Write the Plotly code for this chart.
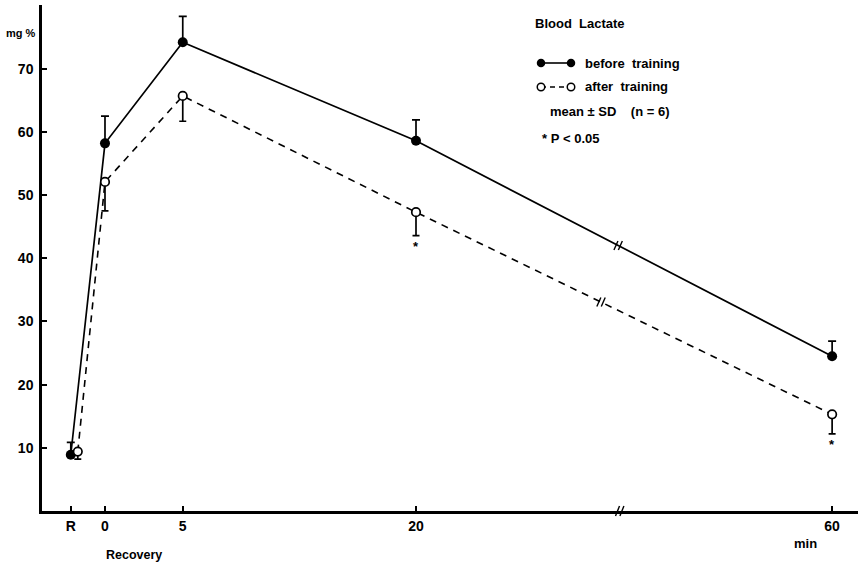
import plotly.graph_objects as go
import numpy as np

# ---------------- data ----------------
time_labels = ["R", "0", "5", "20", "60"]          # R = resting value, then minutes of recovery
time_min = [None, 0, 5, 20, 60]
before_mean = [8.9, 58.2, 74.2, 58.6, 24.5]        # before training, mg %
before_sd = [1.95, 4.3, 4.1, 3.3, 2.4]
after_mean = [9.4, 52.1, 65.7, 47.3, 15.3]         # after training, mg %
after_sd = [1.2, 4.6, 4.0, 3.7, 3.1]
significant = [False, False, False, True, True]    # * P < 0.05
y_ticks = [10, 20, 30, 40, 50, 60, 70]

# ---------------- layout helpers (broken time axis) ----------------
W, H = 858, 564
ML, MR, MT, MB = 42, 0, 5, 53
REST_POS = -2.2          # where the resting value sits, left of 0
COMPRESS = 0.669         # time axis compressed beyond 20 min (axis break)
BREAK_AXIS = 33.1        # break mark positions (display units)
BREAK_BEFORE = 33.0
BREAK_AFTER = 31.9
R_OFFSET = 0.45          # small horizontal offset of the open symbol at R


def disp(t):
    if t is None:
        return REST_POS
    return t if t <= 20 else 20 + (t - 20) * COMPRESS


xb = [disp(t) for t in time_min]
xa = [x + (R_OFFSET if t is None else 0) for x, t in zip(xb, time_min)]

X_RANGE = [-4.051, 48.424]
Y_RANGE = [0, 80.1]

FONT = "Liberation Sans"
BLACK = "#000000"
pw, ph = W - ML - MR, H - MT - MB


def pxp(px, py):
    """pixel position -> paper coordinates"""
    return (px - ML) / pw, (H - MB - py) / ph


fig = go.Figure()

# before training: filled circles, solid line, SD upwards
fig.add_trace(go.Scatter(
    x=xb, y=before_mean, mode="lines+markers", name="before training",
    line=dict(color=BLACK, width=1.7),
    marker=dict(size=10, color=BLACK),
    error_y=dict(type="data", symmetric=False, array=before_sd,
                 arrayminus=[0] * len(before_sd), width=4, thickness=1.7, color=BLACK),
    showlegend=False,
))

# after training: open circles, dashed line, SD downwards
fig.add_trace(go.Scatter(
    x=xa, y=after_mean, mode="lines+markers", name="after training",
    line=dict(color=BLACK, width=1.6, dash="7px,6px"),
    marker=dict(size=8.5, color="white", line=dict(color=BLACK, width=1.7)),
    error_y=dict(type="data", symmetric=False, array=[0] * len(after_sd),
                 arrayminus=after_sd, width=3.5, thickness=1.7, color=BLACK),
    showlegend=False,
))

annotations = []
# significance asterisks below the after-training SD bars
for x, m, s, sig in zip(xa, after_mean, after_sd, significant):
    if sig:
        annotations.append(dict(x=x, y=m - s, xref="x", yref="y", text="<b>*</b>",
                                showarrow=False, yanchor="top", yshift=-1,
                                font=dict(family=FONT, size=13, color=BLACK)))

# axis-break marks on the two curves and on the time axis
shapes = []
px_x = (X_RANGE[1] - X_RANGE[0]) / pw
px_y = (Y_RANGE[1] - Y_RANGE[0]) / ph


def slashes(xc, yc):
    out = []
    for off in (-2.2, 2.2):
        x0 = xc + (off - 2.0) * px_x
        x1 = xc + (off + 2.0) * px_x
        out.append(dict(type="line", xref="x", yref="y", x0=x0, x1=x1,
                        y0=yc - 4.5 * px_y, y1=yc + 4.5 * px_y,
                        line=dict(color=BLACK, width=1.4)))
    return out


for bpos, xs, ys in ((BREAK_BEFORE, xb, before_mean), (BREAK_AFTER, xa, after_mean)):
    yc = float(np.interp(bpos, xs, ys))
    shapes += slashes(bpos, yc)

# on the x axis line (paper refs so it is not clipped)
bx_paper = (BREAK_AXIS - X_RANGE[0]) / (X_RANGE[1] - X_RANGE[0])
for off in (-2.2, 2.2):
    shapes.append(dict(type="line", xref="paper", yref="paper",
                       x0=bx_paper + (off - 2.0) / pw, x1=bx_paper + (off + 2.0) / pw,
                       y0=-5 / ph, y1=5 / ph, line=dict(color=BLACK, width=1.4)))

# ---------------- legend block drawn in pixel overlay axes ----------------
LEG_X0 = 541
fig.add_trace(go.Scatter(
    x=[LEG_X0, LEG_X0 + 30], y=[63, 63], xaxis="x2", yaxis="y2", mode="lines+markers",
    line=dict(color=BLACK, width=1.6), marker=dict(size=8.5, color=BLACK),
    showlegend=False, hoverinfo="skip"))
fig.add_trace(go.Scatter(
    x=[LEG_X0, LEG_X0 + 30], y=[87, 87], xaxis="x2", yaxis="y2", mode="lines+markers",
    line=dict(color=BLACK, width=1.4, dash="5px,4px"),
    marker=dict(size=7.5, color="white", line=dict(color=BLACK, width=1.5)),
    showlegend=False, hoverinfo="skip"))


def txt(px, py, s, size=13, anchor="left"):
    x, y = pxp(px, py)
    return dict(x=x, y=y, xref="paper", yref="paper", text="<b>" + s + "</b>", showarrow=False,
                xanchor=anchor, yanchor="middle",
                font=dict(family=FONT, size=size, color=BLACK))


NB = "\u00a0"
annotations += [
    txt(533, 23, "Blood" + NB + NB + "Lactate"),
    txt(583, 63, "before" + NB + NB + "training"),
    txt(583, 87, "after" + NB + NB + "training"),
    txt(548, 111, "mean ± SD" + NB * 4 + "(n" + NB + "=" + NB + "6)"),
    txt(540, 138, "*" + NB + "P" + NB + "<" + NB + "0.05"),
    # axis titles
    txt(38, 33, "mg" + NB + "%", size=11, anchor="right"),
    txt(104, 555, "Recovery", size=12.5),
    txt(805, 543, "min", size=13, anchor="center"),
]

fig.update_layout(
    width=W, height=H,
    margin=dict(l=ML, r=MR, t=MT, b=MB, pad=0),
    paper_bgcolor="white", plot_bgcolor="white",
    showlegend=False,
    font=dict(family=FONT, color=BLACK),
    xaxis=dict(range=X_RANGE, tickvals=xb, ticktext=time_labels,
               ticks="inside", ticklen=5, tickwidth=1.5, tickcolor=BLACK,
               showline=True, linewidth=2.5, linecolor=BLACK,
               showgrid=False, zeroline=False, fixedrange=True,
               tickfont=dict(family=FONT, size=14, color=BLACK, weight="bold")),
    yaxis=dict(range=Y_RANGE, tickvals=y_ticks,
               ticks="inside", ticklen=5, tickwidth=1.5, tickcolor=BLACK,
               showline=True, linewidth=2.5, linecolor=BLACK, ticklabelstandoff=3,
               showgrid=False, zeroline=False, fixedrange=True,
               tickfont=dict(family=FONT, size=14, color=BLACK, weight="bold")),
    xaxis2=dict(range=[ML, W - MR], overlaying="x", anchor="y2", visible=False, fixedrange=True),
    yaxis2=dict(range=[H - MB, MT], overlaying="y", anchor="x2", visible=False, fixedrange=True),
    annotations=annotations,
    shapes=shapes,
)

fig.write_html("out.html")
